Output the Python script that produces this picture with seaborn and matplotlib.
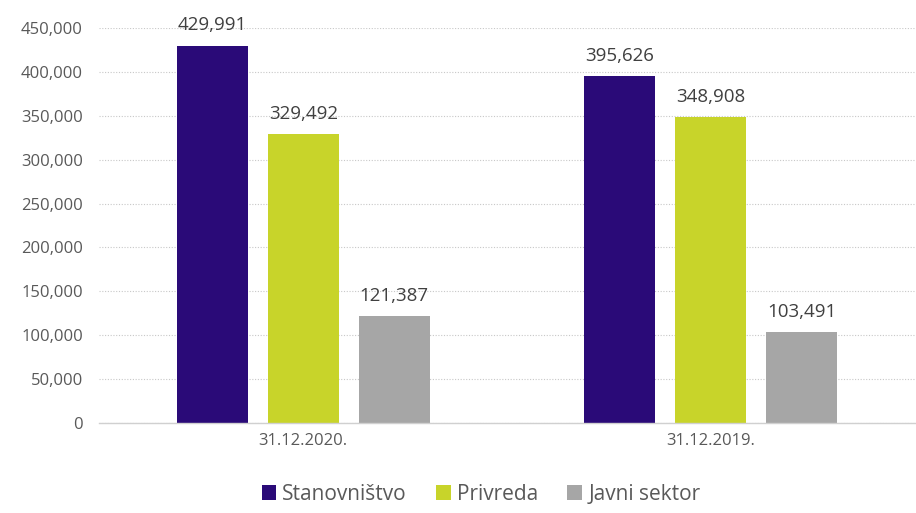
import pandas as pd
import numpy as np
import seaborn as sns
import matplotlib.pyplot as plt
from matplotlib.ticker import FuncFormatter

##################### data

dates = ['31.12.2020.', '31.12.2019.']
sectors = ['Stanovništvo', 'Privreda', 'Javni sektor']
stanovnistvo = [429991, 395626]
privreda = [329492, 348908]
javni_sektor = [121387, 103491]

colors = ['#2a0a78', '#c8d42a', '#a6a6a6']

df = pd.DataFrame({
    'date': dates * 3,
    'sector': [s for s in sectors for _ in dates],
    'value': stanovnistvo + privreda + javni_sektor,
})

##################### plot

sns.set_theme(style='white')
plt.rcParams['font.family'] = ['Open Sans', 'DejaVu Sans']
text_color = '#595959'

fig = plt.figure(figsize=(9.16, 5.13), dpi=100)
ax = fig.add_axes([0.1086, 0.1754, 0.89, 0.77])

sns.barplot(data=df, x='date', y='value', hue='sector', order=dates,
            hue_order=sectors, palette=colors, width=0.67, gap=0.22,
            saturation=1, linewidth=0, ax=ax, legend=True)

# data labels above bars
for cont in ax.containers:
    ax.bar_label(cont, labels=[f'{v:,.0f}' for v in cont.datavalues],
                 padding=8, fontsize=13.5, color='#404040')

ax.set_ylim(0, 450000)
ax.set_yticks(np.arange(0, 450001, 50000))
ax.yaxis.set_major_formatter(FuncFormatter(lambda v, p: f'{v:,.0f}'))
ax.set_xlim(-0.5, 1.5)
ax.grid(axis='y', color='#c8c8c8', linestyle=(0, (1, 1.5)), linewidth=0.8)
ax.set_axisbelow(True)

for side in ['top', 'right', 'left']:
    ax.spines[side].set_visible(False)
ax.spines['bottom'].set_color('#d0d0d0')
ax.spines['bottom'].set_linewidth(1)

ax.tick_params(axis='y', length=0, pad=12, labelsize=12, labelcolor=text_color)
ax.tick_params(axis='x', length=0, pad=7, labelsize=12, labelcolor=text_color)
ax.set_xlabel('')
ax.set_ylabel('')

ax.legend(loc='center', bbox_to_anchor=(0.468, -0.18), ncol=3, frameon=False,
          fontsize=15, handlelength=0.7, handleheight=0.7, handletextpad=0.3,
          columnspacing=1.4, labelcolor=text_color)

fig.savefig('out.png', dpi=100)
